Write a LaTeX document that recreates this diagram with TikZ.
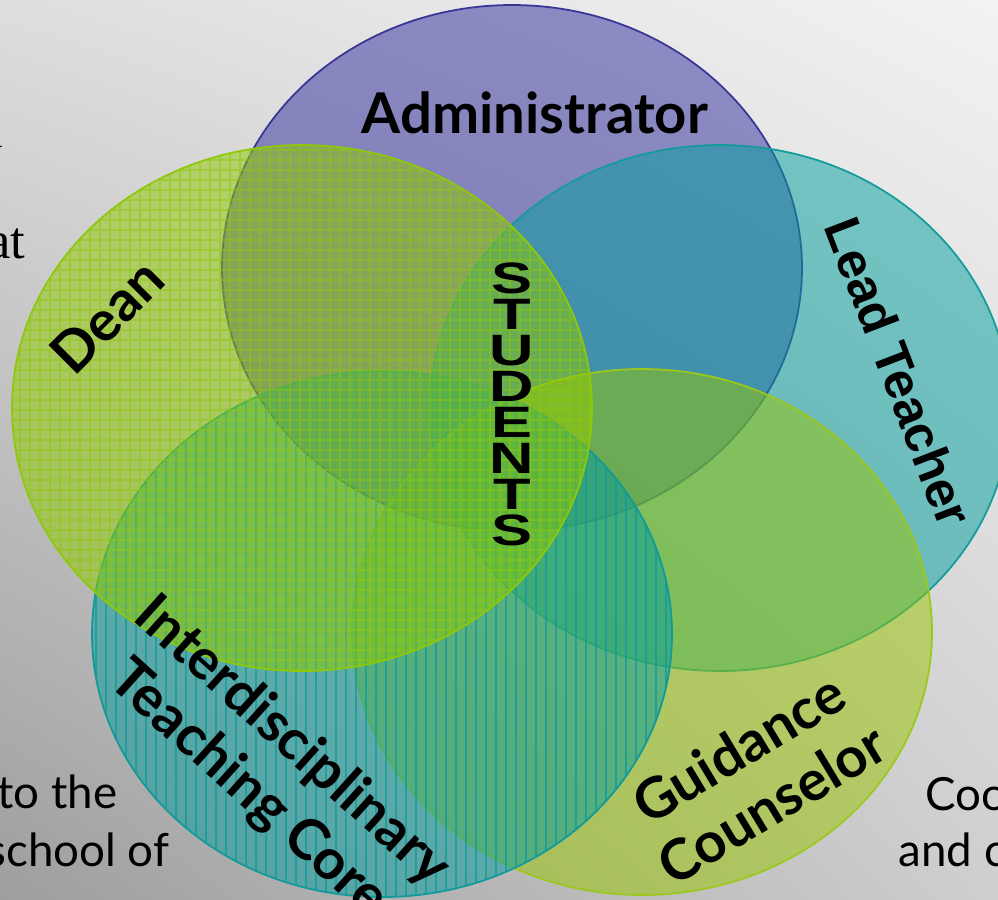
\documentclass[tikz,border=0pt]{standalone}
\usepackage{fontspec}
\usepackage{tikz}
\usetikzlibrary{positioning,shadings}
\newfontfamily\gillface{Lato}
\newfontfamily\arialface{Liberation Sans}
\newfontfamily\widearial{Liberation Sans}[FakeStretch=1.4]
\newfontfamily\sideface{Liberation Serif}

\definecolor{adminfill}{HTML}{302C9C}
\definecolor{adminline}{HTML}{3A3696}
\definecolor{leadfill}{HTML}{00A0A0}
\definecolor{leadline}{HTML}{169A9A}
\definecolor{guidefill}{HTML}{98C600}
\definecolor{guideline}{HTML}{9CC81E}
\definecolor{corefill}{HTML}{009C9C}
\definecolor{coreline}{HTML}{12999A}
\definecolor{deanfill}{HTML}{90CA00}
\definecolor{deanline}{HTML}{8EC80A}

\tikzset{
    petal/.style={fill opacity=0.5, line width=0.5pt},
    role/.style={font=\gillface\bfseries\fontsize{16}{18.5}\selectfont, align=center, inner sep=0pt},
    armrole/.style={font=\arialface\bfseries\fontsize{14.5}{17}\selectfont, inner sep=0pt},
    sidetext/.style={font=\gillface\fontsize{13}{16}\selectfont, inner sep=0pt}
}

\begin{document}
\begin{tikzpicture}[x=0.1mm, y=-0.1mm]
    \useasboundingbox (0,0) rectangle (998,899);
    \clip (0,0) rectangle (998,899);
    %% Backdrop
    \shade[upper left=black!13, upper right=black!5, lower left=black!38, lower right=black!19]
        (0,0) rectangle (998,899);

    %% Slide text peeking out
    \node[font=\sideface\fontsize{12.5}{15}\selectfont, anchor=base east, inner sep=0pt] (sidey) at (3,166) {y};
    \node[font=\sideface\fontsize{15}{18}\selectfont, anchor=base east, inner sep=0pt] (sideat) at (26,258) {at};
    \node[sidetext, anchor=base east] (sideto) at (118,808) {to the};
    \node[sidetext, anchor=base east] (sideschool) at (170,866) {school of};
    \node[sidetext, anchor=base west] (sidecoo) at (925,810) {Coo};
    \node[sidetext, anchor=base west] (sideand) at (898,866) {and c};

    %% Administrator
    \draw[petal, draw=adminline, fill=adminfill] (512,268) ellipse [x radius=29mm, y radius=26.3mm];
    %% Lead Teacher
    \draw[petal, draw=leadline, fill=leadfill] (720,408) ellipse [x radius=29mm, y radius=26.3mm];
    %% Guidance Counselor
    \draw[petal, draw=guideline, fill=guidefill] (642,632) ellipse [x radius=29mm, y radius=26.3mm];
    %% Interdisciplinary core, striped
    \fill[petal, fill=corefill] (382,634) ellipse [x radius=29mm, y radius=26.3mm];
    \begin{scope}
        \clip (382,634) ellipse [x radius=29mm, y radius=26.3mm];
        \foreach \x in {96,106,...,676}
            \draw[coreline, line width=0.3pt, opacity=0.7] (\x,370) -- (\x,899);
    \end{scope}
    \draw[coreline, line width=0.5pt] (382,634) ellipse [x radius=29mm, y radius=26.3mm];
    %% Dean, gridded
    \fill[petal, fill=deanfill] (302,408) ellipse [x radius=29mm, y radius=26.3mm];
    \begin{scope}
        \clip (302,408) ellipse [x radius=29mm, y radius=26.3mm];
        \draw[deanline, line width=0.4pt, opacity=0.5, step=1mm] (10,140) grid (600,680);
    \end{scope}
    \draw[deanline, line width=0.5pt] (302,408) ellipse [x radius=29mm, y radius=26.3mm];

    %% Labels
    \node[role] (admin) at (535,113) {Administrator};
    \node[role, rotate=45] (dean) at (107,316) {Dean};
    \node[armrole, rotate=-69] (lead) at (899,372) {Lead Teacher};
    \node[font=\widearial\bfseries\fontsize{12.5}{10.25}\selectfont, align=center, inner sep=0pt]
        (students) at (512,404) {S\\T\\U\\D\\E\\N\\T\\S};
    \node[role, rotate=-42] (core) at (270,766) {Interdisciplinary\\Teaching Core};
    \node[role, rotate=31] (guide) at (755,776) {Guidance\\Counselor};
\end{tikzpicture}
\end{document}
